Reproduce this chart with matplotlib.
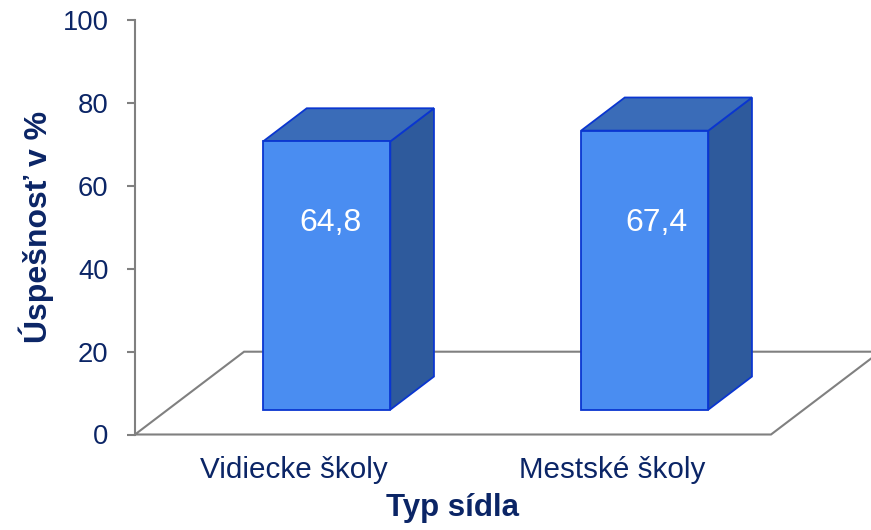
import matplotlib
matplotlib.use("Agg")
import matplotlib.pyplot as plt
from matplotlib.patches import Polygon

# ---- data ----
categories = ["Vidiecke školy", "Mestské školy"]
values = [64.8, 67.4]
value_labels = ["64,8", "67,4"]
y_ticks = [0, 20, 40, 60, 80, 100]
x_title = "Typ sídla"
y_title = "Úspešnosť v %"

# ---- style ----
plt.rcParams['font.family'] = ['Liberation Sans', 'DejaVu Sans']
navy = "#0B2566"
front_c = "#4A8DF1"
top_c = "#3A6CB8"
side_c = "#2E5A9C"
edge_c = "#0A36D0"
grey = "#808080"
label_dx = [0.115, 0.14]   # horizontal offset of value labels

# 3D projection parameters (in data units)
DX = 0.343      # horizontal shift for full floor depth (category units)
DY = 20.0       # vertical shift for full floor depth (value units)
z0, z1 = 0.3, 0.7   # bar depth range (fraction of floor)
bw = 0.4            # bar width (category units)

def proj(x, y, z):
    return (x + z * DX, y + z * DY)

fig = plt.figure(figsize=(8.71, 5.30), dpi=100)
ax = fig.add_axes([135 / 871, (530 - 434.5) / 530, 736 / 871, 414 / 530])
ax.set_xlim(-0.5, -0.5 + 736 / 318)
ax.set_ylim(0, 100)

# floor
n = len(categories)
fx0, fx1 = -0.5, n - 0.5
floor = [proj(fx0, 0, 0), proj(fx1, 0, 0), proj(fx1, 0, 1), proj(fx0, 0, 1)]
ax.add_patch(Polygon(floor, closed=True, facecolor="white", edgecolor=grey,
                     lw=1.5, clip_on=False, zorder=1))

# bars
for i, v in enumerate(values):
    xl, xr = i - bw / 2, i + bw / 2
    side = [proj(xr, 0, z0), proj(xr, 0, z1), proj(xr, v, z1), proj(xr, v, z0)]
    ax.add_patch(Polygon(side, closed=True, facecolor=side_c, edgecolor=edge_c,
                         lw=1.3, zorder=2, joinstyle="miter"))
    top = [proj(xl, v, z0), proj(xr, v, z0), proj(xr, v, z1), proj(xl, v, z1)]
    ax.add_patch(Polygon(top, closed=True, facecolor=top_c, edgecolor=edge_c,
                         lw=1.3, zorder=2, joinstyle="miter"))
    front = [proj(xl, 0, z0), proj(xr, 0, z0), proj(xr, v, z0), proj(xl, v, z0)]
    ax.add_patch(Polygon(front, closed=True, facecolor=front_c, edgecolor=edge_c,
                         lw=1.3, zorder=3, joinstyle="miter"))
    ax.text(i + label_dx[i], 51.2, value_labels[i], color="white", fontsize=23,
            ha="center", va="center", zorder=4)
    ax.text(i, -8.6, categories[i], color=navy, fontsize=21.3,
            ha="center", va="center", clip_on=False)

# axes styling
for s in ["top", "right", "bottom"]:
    ax.spines[s].set_visible(False)
ax.spines["left"].set_color(grey)
ax.spines["left"].set_linewidth(1.5)
ax.set_xticks([])
ax.set_yticks(y_ticks)
ax.set_yticklabels([str(t) for t in y_ticks])
ax.tick_params(axis="y", direction="out", length=6, width=1.5, color=grey,
               labelcolor=navy, labelsize=19.7, pad=13)
ax.patch.set_alpha(0)

fig.text(452 / 871, 1 - 508 / 530, x_title, color=navy, fontsize=22.5,
         fontweight="bold", ha="center", va="center")
fig.text(36 / 871, 1 - 227 / 530, y_title, color=navy, fontsize=23,
         fontweight="bold", ha="center", va="center", rotation=90)

fig.savefig("out.png", dpi=100)
